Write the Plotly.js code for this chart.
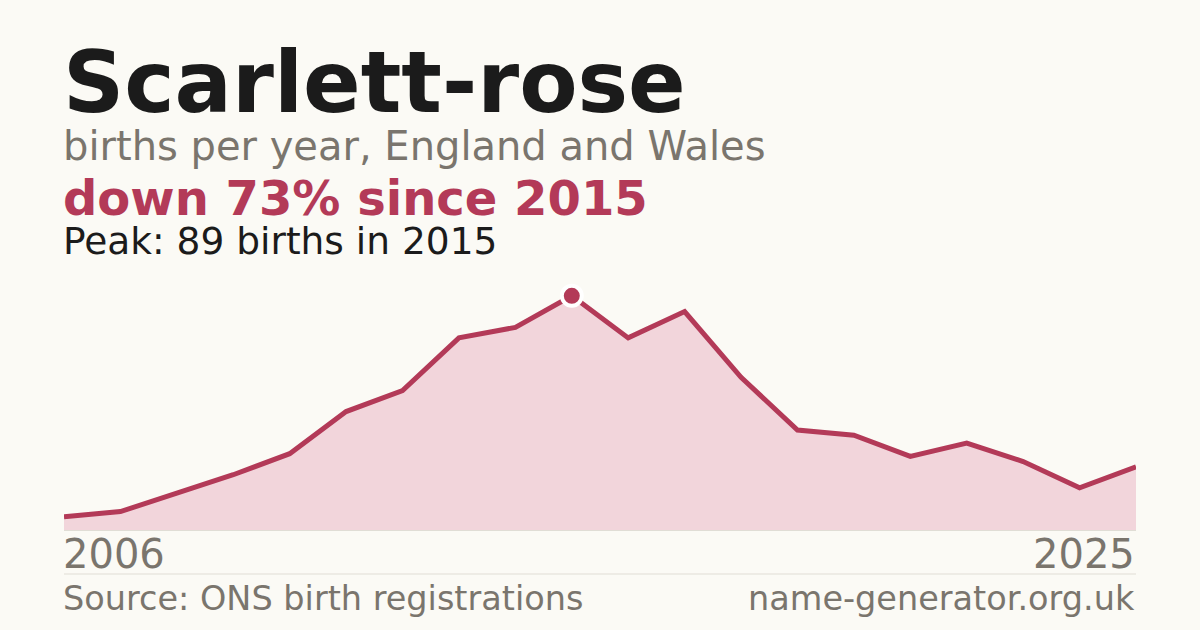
<!DOCTYPE html>
<html>
<head>
<meta charset="utf-8">
<script src="https://cdn.plot.ly/plotly-3.0.1.min.js"></script>
<style>
  html, body { margin: 0; padding: 0; background: #fbfaf5; }
  #chart { width: 1200px; height: 630px; }
</style>
</head>
<body>
<div id="chart"></div>
<script>
// births per year for the name
const years = [2006, 2007, 2008, 2009, 2010, 2011, 2012, 2013, 2014, 2015,
               2016, 2017, 2018, 2019, 2020, 2021, 2022, 2023, 2024, 2025];
const births = [5, 7, 14, 21, 29, 45, 53, 73, 77, 89,
                73, 83, 58, 38, 36, 28, 33, 26, 16, 24];

const nameTitle = "Scarlett-rose";
const subtitle = "births per year, England and Wales";
const sourceText = "Source: ONS birth registrations";
const siteText = "name-generator.org.uk";

const RED = "#b33a58";
const GREY = "#7a756d";
const FONT = "DejaVu Sans";

const peak = Math.max(...births);
const peakIdx = births.indexOf(peak);
const peakYear = years[peakIdx];
const last = births[births.length - 1];
const change = Math.round((1 - last / peak) * 100);

// pixel row -> paper y (plot area runs from 280px to 530px)
const py = (p) => (530 - p) / 250;

const data = [
  {
    type: "scatter",
    mode: "lines",
    x: years,
    y: births,
    fill: "tozeroy",
    fillcolor: "#f2d5db",
    line: { color: RED, width: 5 },
    hoverinfo: "skip",
  },
  {
    type: "scatter",
    mode: "markers",
    x: [peakYear],
    y: [peak],
    marker: { color: RED, size: 20, line: { color: "#ffffff", width: 4 } },
    hoverinfo: "skip",
  },
];

const ann = (text, x, y, xanchor, size, color, bold) => ({
  text: bold ? `<b>${text}</b>` : text,
  xref: "paper", yref: "paper",
  x: x, y: py(y),
  xanchor: xanchor, yanchor: "middle",
  xshift: xanchor === "left" ? -2 : 0,
  borderpad: 0,
  showarrow: false,
  font: { family: FONT, size: size, color: color },
});

const layout = {
  width: 1200,
  height: 630,
  margin: { l: 64, r: 64, t: 280, b: 100 },
  paper_bgcolor: "#fbfaf5",
  plot_bgcolor: "#fbfaf5",
  showlegend: false,
  xaxis: {
    range: [years[0], years[years.length - 1]],
    showgrid: false, zeroline: false, showticklabels: false,
    showline: true, linecolor: "#e0ddd5", linewidth: 1,
    fixedrange: true,
  },
  yaxis: {
    range: [0, 95],
    showgrid: false, zeroline: false, showticklabels: false,
    fixedrange: true,
  },
  shapes: [
    {
      type: "line", xref: "paper", yref: "paper",
      x0: 0, x1: 1, y0: py(574), y1: py(574),
      line: { color: "#e0ddd5", width: 1 },
    },
  ],
  annotations: [
    ann(nameTitle, 0, 82, "left", 85, "#1b1b1b", true),
    ann(subtitle, 0, 146, "left", 40, GREY, false),
    ann(`down ${change}% since ${peakYear}`, 0, 198, "left", 48, RED, true),
    ann(`Peak: ${peak} births in ${peakYear}`, 0, 241, "left", 37.5, "#1b1b1b", false),
    ann(String(years[0]), 0, 554, "left", 40, GREY, false),
    ann(String(years[years.length - 1]), 1, 554, "right", 40, GREY, false),
    ann(sourceText, 0, 598, "left", 33.5, GREY, false),
    ann(siteText, 1, 598, "right", 33.5, GREY, false),
  ],
};

Plotly.newPlot("chart", data, layout, { staticPlot: true });
</script>
</body>
</html>
